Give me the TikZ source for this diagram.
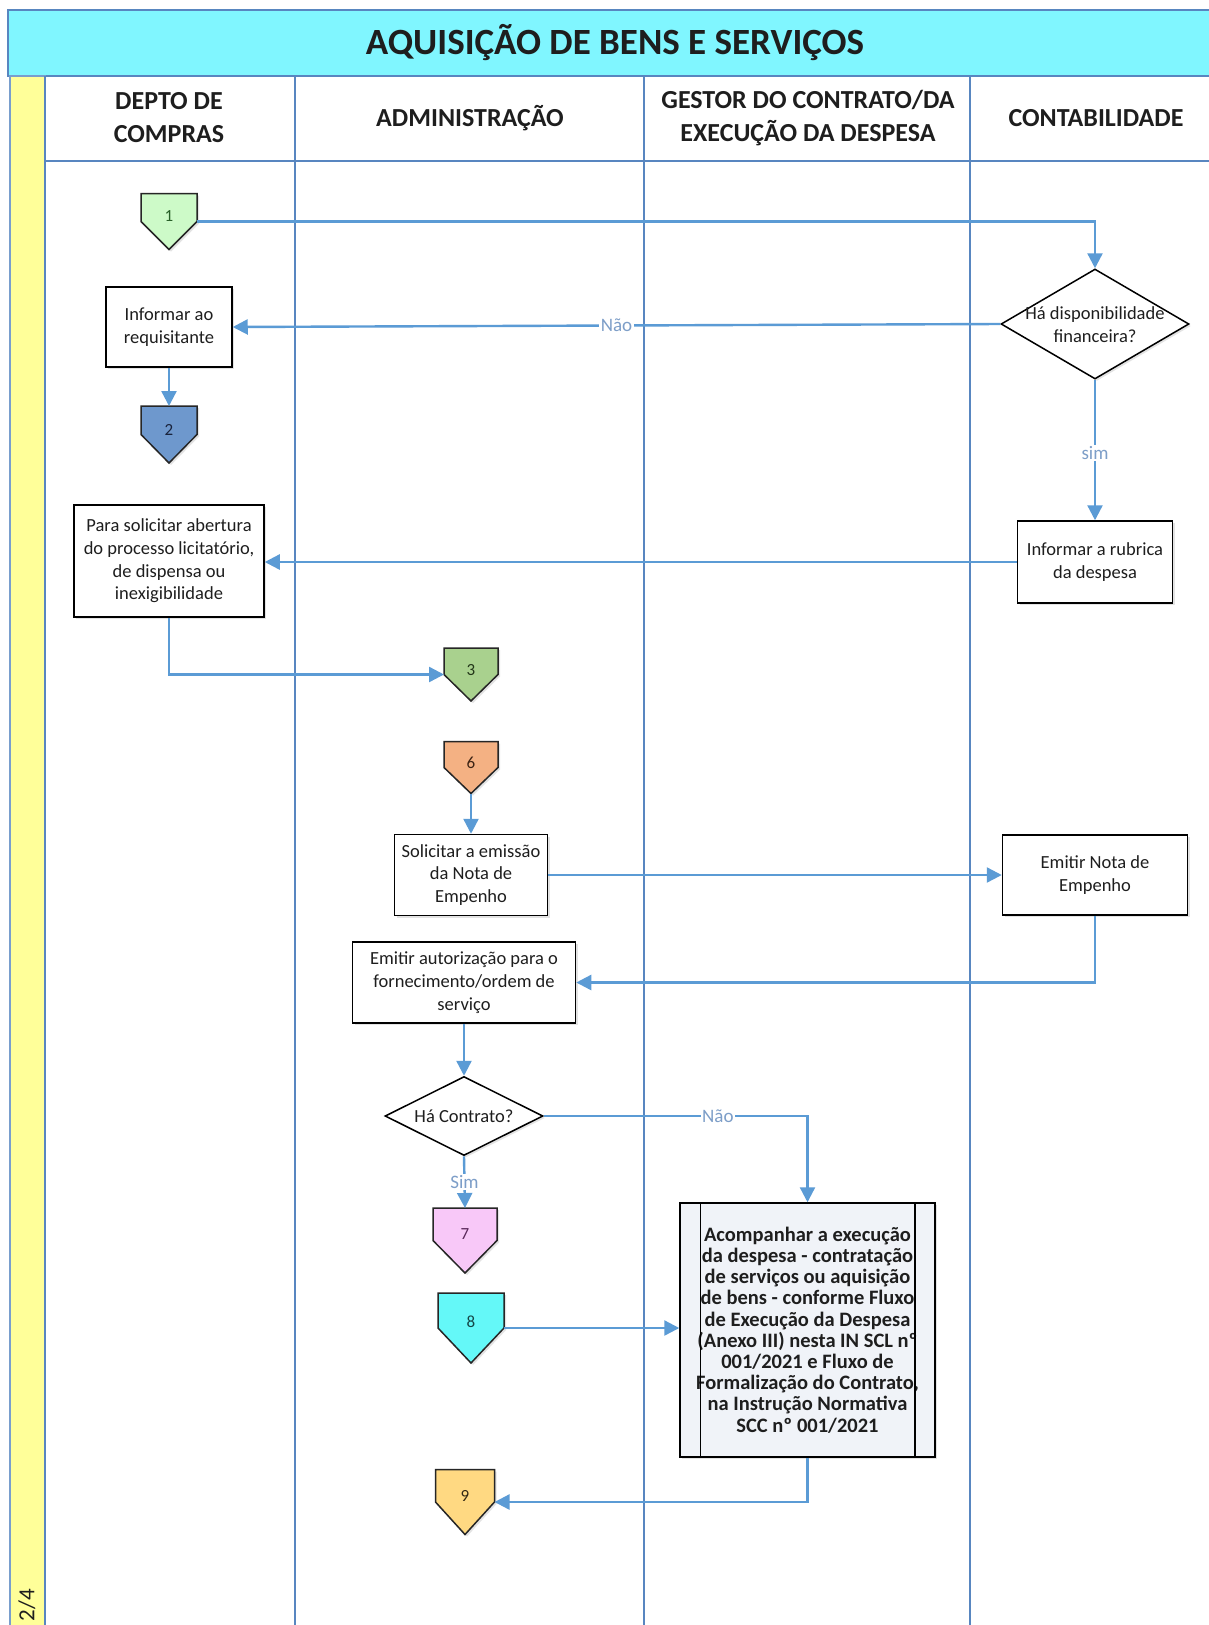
\documentclass[tikz,border=0pt]{standalone}
\usepackage{fontspec}
\setmainfont{Carlito}
\usetikzlibrary{arrows.meta,shapes.geometric,shadows,calc}

% Off-page connector: square top with a pointed bottom
\makeatletter
\newdimen\opxa \newdimen\opya \newdimen\opxb \newdimen\opyb
\newdimen\opxm \newdimen\opym
\pgfdeclareshape{offpage}{%
  \inheritsavedanchors[from=rectangle]%
  \inheritanchorborder[from=rectangle]%
  \inheritanchor[from=rectangle]{center}%
  \inheritanchor[from=rectangle]{text}%
  \inheritanchor[from=rectangle]{north}%
  \inheritanchor[from=rectangle]{south}%
  \inheritanchor[from=rectangle]{east}%
  \inheritanchor[from=rectangle]{west}%
  \inheritanchor[from=rectangle]{north east}%
  \inheritanchor[from=rectangle]{north west}%
  \backgroundpath{%
    \southwest \opxa=\pgf@x \opya=\pgf@y
    \northeast \opxb=\pgf@x \opyb=\pgf@y
    \opxm=.5\opxa \advance\opxm by .5\opxb
    \opym=.5\opya \advance\opym by .5\opyb
    \pgfpathmoveto{\pgfpoint{\opxa}{\opyb}}%
    \pgfpathlineto{\pgfpoint{\opxb}{\opyb}}%
    \pgfpathlineto{\pgfpoint{\opxb}{\opym}}%
    \pgfpathlineto{\pgfpoint{\opxm}{\opya}}%
    \pgfpathlineto{\pgfpoint{\opxa}{\opym}}%
    \pgfpathclose
  }%
}
\makeatother

\newcommand\zerobox[1]{\smash{\makebox[0pt]{\begin{tabular}{@{}c@{}}#1\end{tabular}}}}
\newcommand\tightlines{\lineskiplimit=-50pt\relax}

\definecolor{laneblue}{RGB}{88,134,192}
\definecolor{arrowblue}{RGB}{91,155,213}
\definecolor{lblblue}{RGB}{125,158,200}
\definecolor{titlecyan}{RGB}{128,246,255}
\definecolor{stripyellow}{RGB}{255,255,153}
\definecolor{txt}{RGB}{30,30,30}
\definecolor{cA}{RGB}{205,250,200}
\definecolor{cB}{RGB}{110,152,205}
\definecolor{cC}{RGB}{169,209,142}
\definecolor{cF}{RGB}{244,177,131}
\definecolor{cG}{RGB}{248,200,248}
\definecolor{cH}{RGB}{100,248,248}
\definecolor{cI}{RGB}{255,217,130}
\definecolor{procfill}{RGB}{240,243,248}
\definecolor{nA}{RGB}{40,95,40}
\definecolor{nB}{RGB}{25,35,60}
\definecolor{nC}{RGB}{35,55,25}
\definecolor{nF}{RGB}{60,35,20}
\definecolor{nG}{RGB}{90,40,90}
\definecolor{nH}{RGB}{20,70,70}
\definecolor{nI}{RGB}{50,40,20}

\begin{document}
\begin{tikzpicture}[x=1pt,y=-1pt,
  lane/.style={draw=laneblue, line width=2.2pt},
  shade/.style={drop shadow={shadow xshift=2pt, shadow yshift=-2pt, opacity=.22}},
  box/.style={shape=rectangle, draw=black, line width=1.5pt, fill=white, align=center,
    inner sep=0pt, text=txt, font=\fontsize{18.5}{22.7}\selectfont, shade},
  dec/.style={shape=diamond, draw=black, line width=1.5pt, fill=white, inner sep=0pt,
    text=txt, font=\fontsize{18.5}{22.7}\selectfont, shade},
  offp/.style={shape=offpage, draw=black!85, line width=1.5pt, inner sep=0pt, outer sep=0pt,
    font=\fontsize{17}{18}\selectfont, shade},
  proc/.style={shape=rectangle, draw=black, line width=1.5pt, fill=procfill, align=center,
    inner sep=0pt, text=txt,
    font=\fontsize{20.5}{21.2}\selectfont\bfseries\tightlines, shade},
  flow/.style={draw=arrowblue, line width=2.4pt, -{Triangle[length=15pt,width=15pt]}},
  lbl/.style={fill=white, text=lblblue, inner sep=1.5pt, font=\fontsize{19}{20}\selectfont},
  head/.style={align=center, text=txt, font=\fontsize{26}{33}\selectfont\bfseries}
]
\useasboundingbox (0,0) rectangle (1209,1625);
\clip (0,0) rectangle (1209,1625);
\fill[white] (0,0) rectangle (1209,1625);

% title bar
\draw[fill=titlecyan, draw=laneblue, line width=1.5pt] (8,10) rectangle (1220,76);
\node[text=txt, font=\fontsize{37}{40}\selectfont\bfseries] (title) at (615,43)
  {AQUISIÇÃO DE BENS E SERVIÇOS};

% side strip
\draw[fill=stripyellow, draw=laneblue!80, line width=1.5pt] (10,76) rectangle (45,1640);
\node[rotate=90, text=txt, font=\fontsize{23}{24}\selectfont] (pg) at (27,1605) {2/4};

% lanes
\draw[lane] (45,161) -- (1220,161);
\foreach \x in {45,295,644,970} \draw[lane] (\x,76) -- (\x,1640);

\node[head] (h1) at (169,118) {DEPTO DE\\COMPRAS};
\node[head] (h2) at (470,118) {ADMINISTRAÇÃO};
\node[head] (h3) at (808,118) {GESTOR DO CONTRATO/DA\\EXECUÇÃO DA DESPESA};
\node[head] (h4) at (1096,118) {CONTABILIDADE};

% off-page connectors
\node[offp, fill=cA, text=nA, minimum width=56, minimum height=56] (p1) at (169,221.5) {\raisebox{10pt}{1}};
\node[offp, fill=cB, text=nB, minimum width=56, minimum height=57] (p2) at (169,434.5) {\raisebox{10pt}{2}};
\node[offp, fill=cC, text=nC, minimum width=54, minimum height=53] (p3) at (471,674.5) {\raisebox{10pt}{3}};
\node[offp, fill=cF, text=nF, minimum width=54, minimum height=52] (p6) at (471,767.5) {\raisebox{10pt}{6}};
\node[offp, fill=cG, text=nG, minimum width=64, minimum height=65] (p7) at (465,1240.5) {\raisebox{12pt}{7}};
\node[offp, fill=cH, text=nH, minimum width=66, minimum height=70] (p8) at (471,1328) {\raisebox{12pt}{8}};
\node[offp, fill=cI, text=nI, minimum width=59, minimum height=65] (p9) at (465,1502) {\raisebox{12pt}{9}};

% process boxes
\node[box, minimum width=126, minimum height=80] (b1) at (169,327) {Informar ao\\requisitante};
\node[box, minimum width=190, minimum height=112] (b3) at (169,561)
  {Para solicitar abertura\\do processo licitatório,\\de dispensa ou\\inexigibilidade};
\node[box, minimum width=155, minimum height=82] (b2) at (1095,562) {Informar a rubrica\\da despesa};
\node[box, minimum width=153, minimum height=81] (b4) at (471,875) {Solicitar a emissão\\da Nota de\\Empenho};
\node[box, minimum width=185, minimum height=80] (b5) at (1095,875) {Emitir Nota de\\Empenho};
\node[box, minimum width=223, minimum height=81] (b6) at (464,982.5)
  {Emitir autorização para o\\fornecimento/ordem de\\serviço};

% decisions
\node[dec, minimum width=188, minimum height=110] (d1) at (1095,324)
  {\raisebox{-13pt}{\zerobox{Há disponibilidade\\financeira?}}};
\node[dec, minimum width=158, minimum height=79] (d2) at (464,1116)
  {\raisebox{-12pt}{\zerobox{Há Contrato?}}};

% predefined process
\node[proc, minimum width=255, minimum height=254] (big) at (807.5,1330)
  {Acompanhar a execução\\da despesa - contratação\\de serviços ou aquisição\\de bens - conforme Fluxo\\de Execução da Despesa\\(Anexo III) nesta IN SCL nº\\001/2021 e Fluxo de\\Formalização do Contrato,\\na Instrução Normativa\\SCC nº 001/2021};
\draw[black, line width=1.5pt] ([xshift=21pt]big.north west) -- ([xshift=21pt]big.south west);
\draw[black, line width=1.5pt] ([xshift=-21pt]big.north east) -- ([xshift=-21pt]big.south east);

% connectors
\draw[flow] (p1.east) -| (d1.north);
\draw[flow] (d1.west) -- node[lbl, pos=0.5] (l1) {Não} (b1.east);
\draw[flow] (b1.south) -- (p2.north);
\draw[flow] (d1.south) -- node[lbl, pos=0.52] (l2) {sim} (b2.north);
\draw[flow] (b2.west) -- (b2.west -| b3.east);
\draw[flow] (b3.south) |- (p3.west);
\draw[flow] (p6.south) -- (b4.north);
\draw[flow] (b4.east) -- (b5.west);
\draw[flow] (b5.south) |- (b6.east);
\draw[flow] (b6.south) -- (d2.north);
\draw[flow] (d2.east) -| node[lbl, pos=0.33] (l3) {Não} (big.north);
\draw[flow] (d2.south) -- node[lbl, pos=0.5] (l4) {Sim} (p7.north);
\draw[flow] (p8.east) -- (p8.east -| big.west);
\draw[flow] (big.south) |- (p9.east);
\end{tikzpicture}
\end{document}
